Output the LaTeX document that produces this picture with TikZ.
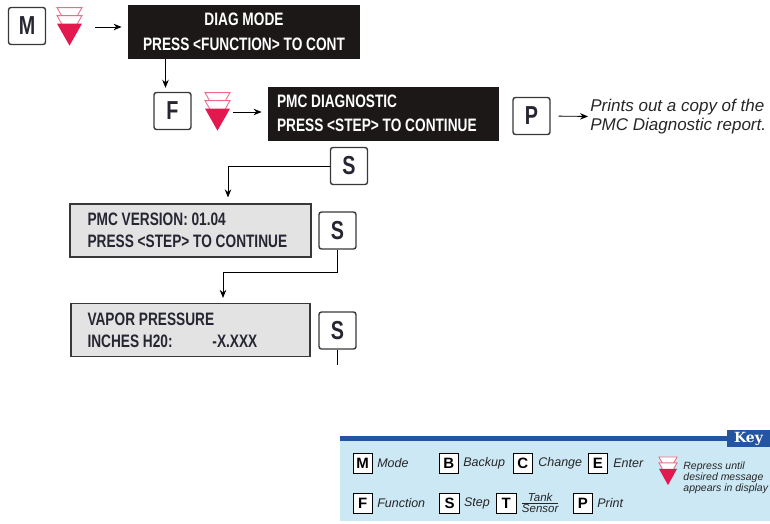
\documentclass[tikz,border=0pt]{standalone}
\usepackage{fontspec}
\usetikzlibrary{arrows.meta,positioning}

\newfontfamily\lcdfont{Liberation Sans}[FakeStretch=0.76]
\newfontfamily\notefont{Liberation Sans}
\newfontfamily\keyfont{DejaVu Serif}

\definecolor{lcdblack}{HTML}{1C1818}
\definecolor{lcdgrey}{HTML}{E3E3E3}
\definecolor{lcdedge}{HTML}{383838}
\definecolor{lcdtext}{HTML}{262633}
\definecolor{iconred}{HTML}{E2184E}
\definecolor{iconline}{HTML}{EC6D8A}
\definecolor{keyblue}{HTML}{2455A0}
\definecolor{keybg}{HTML}{CDE8F5}

% one display row, left aligned, never wrapped
\newcommand{\lcdrow}[2][206pt]{\makebox[#1][l]{#2}}

\tikzset{
  repress/.pic={
    \filldraw[fill=white, draw=iconline, line width=0.9pt] (-12.5,0) -- (12.5,0) -- (0,22) -- cycle;
    \filldraw[fill=white, draw=iconline, line width=0.9pt] (-12.5,8) -- (12.5,8) -- (0,30) -- cycle;
    \fill[iconred] (-12.5,16) -- (12.5,16) -- (0,38) -- cycle;
  },
  iconspot/.style={minimum width=25pt, minimum height=38pt, inner sep=0pt},
  flowkey/.style={draw=lcdedge, fill=white, line width=1.4pt, rounded corners=2.5pt,
    minimum width=37pt, minimum height=37pt, inner sep=0pt, text=lcdtext,
    font=\lcdfont\bfseries\fontsize{26}{26}\selectfont},
  lcdbox/.style={fill=lcdblack, text=white, minimum height=54pt, inner sep=0pt,
    font=\lcdfont\bfseries\fontsize{18}{24.5}\selectfont},
  lcdgrey/.style={draw=lcdedge, fill=lcdgrey, line width=1.2pt, text=lcdtext,
    minimum height=53pt, inner sep=0pt, align=left,
    font=\lcdfont\bfseries\fontsize{18}{22}\selectfont},
  notetext/.style={inner sep=0pt, align=left, text=black!85,
    font=\notefont\itshape\fontsize{17}{19.5}\selectfont},
  keybox/.style={draw=black, fill=white, line width=0.8pt, minimum width=19.5pt,
    minimum height=20pt, inner sep=0pt, font=\notefont\bfseries\fontsize{15}{15}\selectfont},
  keylabel/.style={inner sep=0pt, text=black!85, font=\notefont\itshape\fontsize{12.5}{13}\selectfont},
}

\begin{document}
\begin{tikzpicture}[x=1pt, y=-1pt, >={Stealth[length=8pt,width=6.5pt]}, line width=0.8pt]
  \useasboundingbox (0,0) rectangle (770,523);
  \clip (0,0) rectangle (770,523);

  % Mode
  \node[flowkey] (mk) at (27,26) {M};
  \node[iconspot] (ic1) at (69.5,27) {};
  \pic at (ic1.north) {repress};
  \node[lcdbox, minimum width=232pt, align=center] (diag) at (244,32) {DIAG MODE\\PRESS <FUNCTION> TO CONT};
  \draw[->, shorten <=13pt, shorten >=6pt] (ic1.east) -- (ic1.east -| diag.west);

  % Function
  \node[flowkey] (fk) at (172.5,111) {F};
  \path (fk.north) ++(-7,0) coordinate (fin);
  \draw[->, shorten >=4pt] (fin |- diag.south) -- (fin);
  \node[iconspot] (ic2) at (217.5,112) {};
  \pic at (ic2.north) {repress};
  \node[lcdbox, minimum width=231pt, align=left] (pmcd) at (383.5,113.5) {\lcdrow[213pt]{PMC DIAGNOSTIC}\\\lcdrow[213pt]{PRESS <STEP> TO CONTINUE}};
  \draw[->, shorten <=3pt, shorten >=6pt] (ic2.east) -- (ic2.east -| pmcd.west);

  % Print
  \node[flowkey] (pk) at (531.5,116) {P};
  \node[notetext, anchor=west] (prn) at (590,116.5) {Prints out a copy of the\\PMC Diagnostic report.};
  \draw[->, shorten <=8pt, shorten >=2pt] (pk.east) -- (prn.west);

  % Step through the displays
  \node[flowkey] (s1) at (349,166) {S};
  \node[lcdgrey, minimum width=241pt] (ver) at (190.5,230.5) {\lcdrow{PMC VERSION: 01.04}\\\lcdrow{PRESS <STEP> TO CONTINUE}};
  \node[flowkey] (s2) at (337.5,230.5) {S};
  \node[lcdgrey, minimum width=239pt] (vap) at (190.5,330) {\lcdrow{VAPOR PRESSURE}\\\lcdrow{\makebox[125pt][l]{INCHES H20:}-X.XXX}};
  \node[flowkey] (s3) at (337.5,330.5) {S};
  \coordinate (more) at (337.5,365);
  \draw[->, shorten >=6pt] (s1.west) -| ([xshift=37.5pt]ver.north);
  \draw[->, shorten >=5pt] (s2.south) -- ++(0,23) -| ([xshift=32.5pt]vap.north);
  \draw (s3.south) -- (more);

  % Key
  \fill[keybg] (340,441) rectangle (770,521);
  \fill[keyblue] (340,436) rectangle (770,441);
  \node[fill=keyblue, text=white, minimum width=43pt, minimum height=17pt, inner sep=0pt,
    font=\keyfont\bfseries\fontsize{14}{14}\selectfont] (ktab) at (748.5,438.5) {Key};

  \node[keybox] (km) at (362.7,463) {M};
  \node[keylabel, right=4pt of km] (kml) {Mode};
  \node[keybox] (kb) at (448.8,463) {B};
  \node[keylabel, right=4pt of kb] (kbl) {Backup};
  \node[keybox] (kc) at (522.8,463) {C};
  \node[keylabel, right=5pt of kc] (kcl) {Change};
  \node[keybox] (ke) at (597.8,463) {E};
  \node[keylabel, right=5pt of ke] (kel) {Enter};

  \node[keybox] (kf) at (362.7,503) {F};
  \node[keylabel, right=4pt of kf] (kfl) {Function};
  \node[keybox] (ks) at (449.5,503) {S};
  \node[keylabel, right=4pt of ks] (ksl) {Step};
  \node[keybox] (kt) at (506.2,503) {T};
  \node[keylabel, right=4pt of kt, font=\notefont\itshape\fontsize{11.5}{12}\selectfont] (ktl) {${\mbox{Tank}\over\mbox{Sensor}}$};
  \node[keybox] (kp) at (582.8,503) {P};
  \node[keylabel, right=4pt of kp] (kpl) {Print};

  \coordinate (kicon) at (668,457);
  \pic[xscale=0.72, yscale=0.74] at (kicon) {repress};
  \node[keylabel, anchor=west, align=left, font=\notefont\itshape\fontsize{10.5}{11}\selectfont] (krep) at (683,478) {Repress until\\desired message\\appears in display};
\end{tikzpicture}
\end{document}
